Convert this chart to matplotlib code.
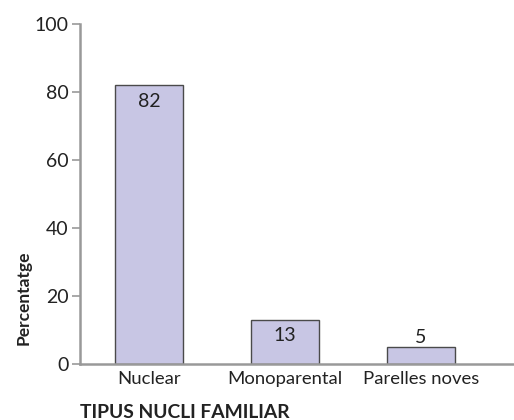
import matplotlib
matplotlib.use("Agg")
import matplotlib.pyplot as plt

categories = ["Nuclear", "Monoparental", "Parelles noves"]
values = [82, 13, 5]
yticks = [0, 20, 40, 60, 80, 100]

plt.rcParams["font.family"] = ["Lato", "DejaVu Sans"]

fig = plt.figure(figsize=(5.14, 4.2), dpi=100)
ax = fig.add_axes([80 / 514, 1 - 364 / 420, 1 - 80 / 514, 340 / 420])

x = range(len(categories))
ax.bar(x, values, width=0.5, color="#c8c6e4", edgecolor="#4a4a4a", linewidth=1.0, zorder=2)

# value labels: inside the bar near its top, or just above a short bar
for xi, v in zip(x, values):
    if v > 10:
        ax.text(xi, v - 4.7, str(v), ha="center", va="center", fontsize=14, color="#222222")
    else:
        ax.text(xi, v + 2.8, str(v), ha="center", va="center", fontsize=14, color="#222222")

ax.set_xlim(-0.507, 2.684)
ax.set_ylim(0, 100)
ax.set_yticks(yticks)
ax.set_xticks(list(x))
ax.set_xticklabels(categories, fontsize=13.3, color="#222222")
ax.tick_params(axis="x", length=0, pad=5)
ax.tick_params(axis="y", length=6, width=1.2, color="#999999", labelsize=14, labelcolor="#222222", pad=2)

for side in ["top", "right"]:
    ax.spines[side].set_visible(False)
for side in ["left", "bottom"]:
    ax.spines[side].set_color("#999999")
    ax.spines[side].set_linewidth(1.8)

fig.text(24 / 514, 1 - 298 / 420, "Percentatge", rotation=90, ha="center", va="center",
         fontsize=12.5, fontweight="bold", color="#222222")
fig.text(80 / 514, 1 - 412 / 420, "TIPUS NUCLI FAMILIAR", ha="left", va="center",
         fontsize=13.9, fontweight="bold", color="#222222")

fig.savefig("out.png", dpi=100)
